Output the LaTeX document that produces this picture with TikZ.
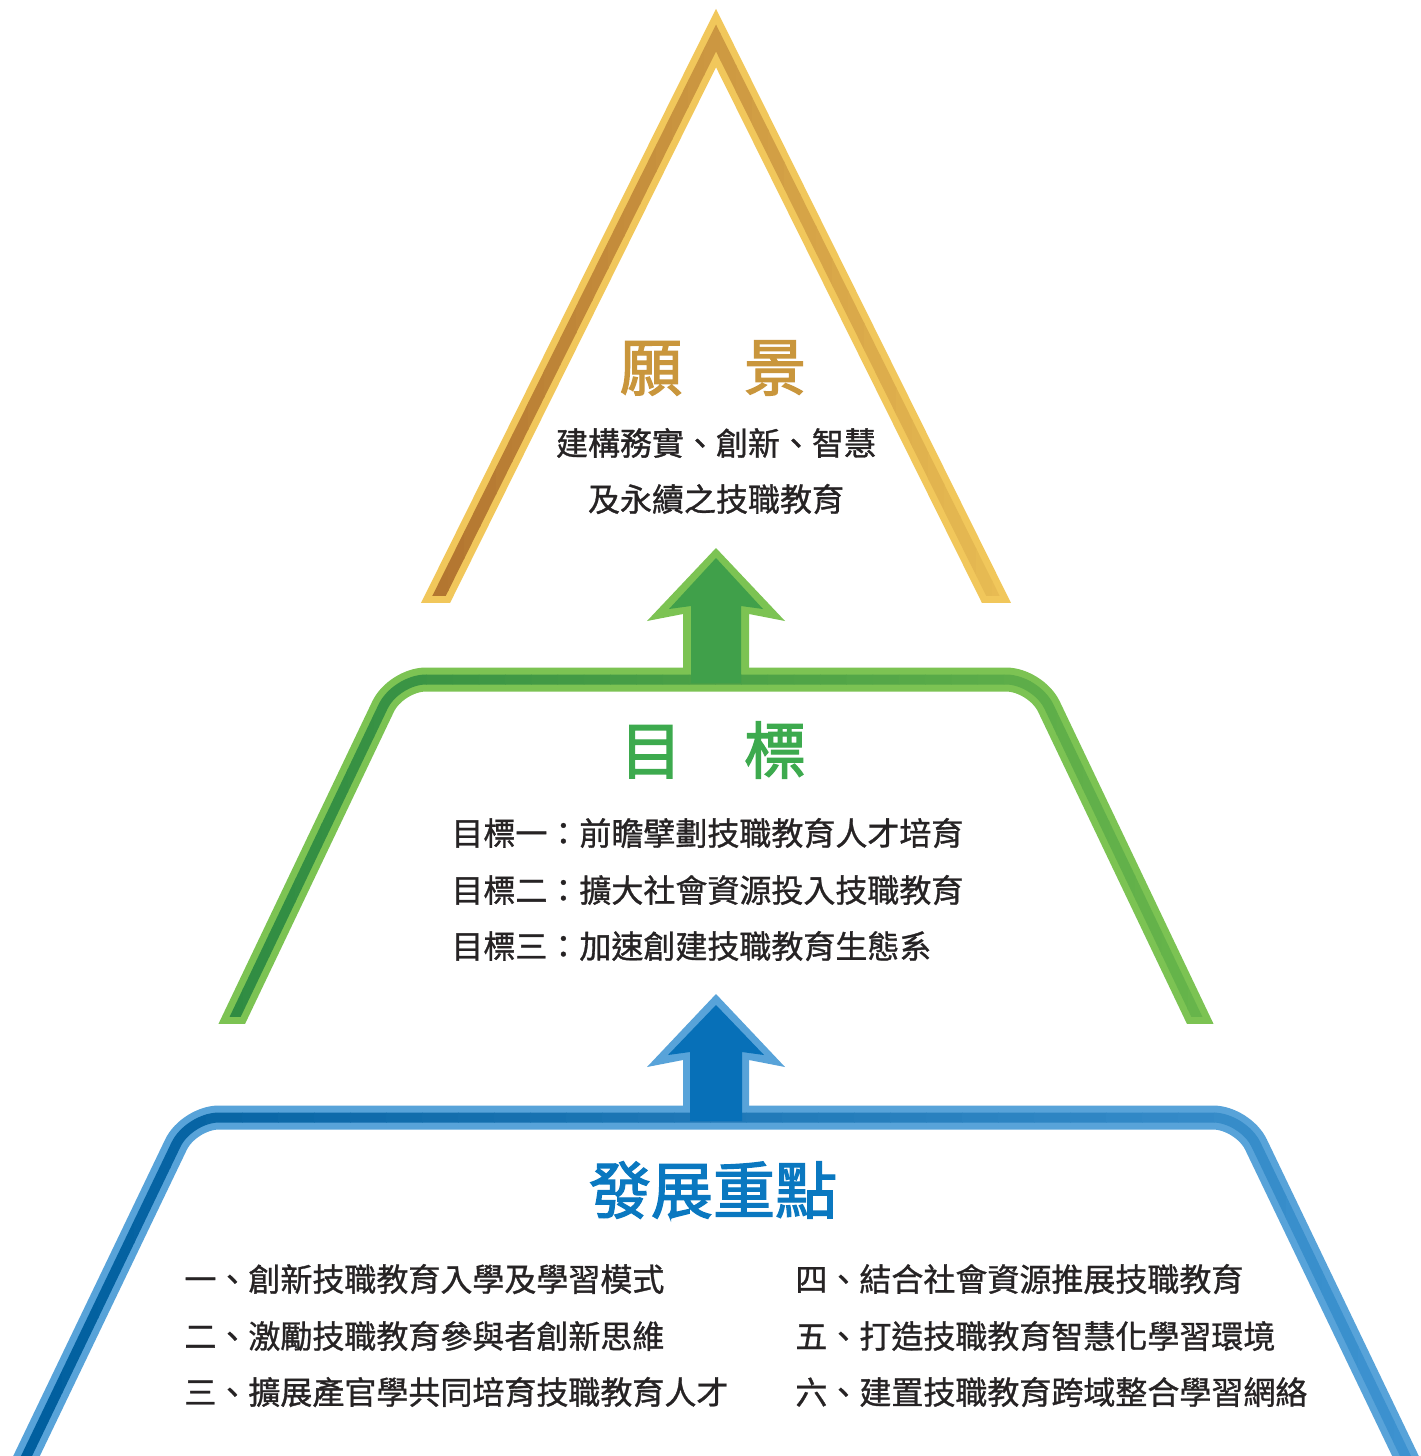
\documentclass[tikz,border=0pt]{standalone}
\usepackage{fontspec}
\newfontfamily\cjk{Noto Sans CJK TC}
\newfontfamily\cjkmed[FakeBold=1.0]{Noto Sans CJK TC}
\newfontfamily\cjkbold[FakeBold=2.2]{Noto Sans CJK TC}
\definecolor{goldOut}{HTML}{F1C75B}
\definecolor{goldInL}{HTML}{B0722E}
\definecolor{goldInR}{HTML}{EBC055}
\definecolor{goldT}{HTML}{C9963C}
\definecolor{greenOut}{HTML}{7CC353}
\definecolor{greenInL}{HTML}{2E8B42}
\definecolor{greenInR}{HTML}{69B64B}
\definecolor{greenArrow}{HTML}{40A04A}
\definecolor{greenT}{HTML}{3DAA4E}
\definecolor{blueOut}{HTML}{58A3D9}
\definecolor{blueInL}{HTML}{005E9E}
\definecolor{blueInR}{HTML}{3E93D0}
\definecolor{blueArrow}{HTML}{0770B8}
\definecolor{blueT}{HTML}{0A78C0}
\definecolor{txt}{HTML}{262324}
% gradient stroke: #1 path, #2 left colour, #3 right colour, #4 xmin, #5 xmax, #6 y max (clip), #7 width
\newcommand\gradstroke[7]{%
  \foreach \i in {0,...,39}{%
    \pgfmathsetmacro\xa{#4+(#5-#4)/40*\i}%
    \pgfmathsetmacro\xb{#4+(#5-#4)/40*(\i+1)+0.6}%
    \pgfmathtruncatemacro\p{100/39*\i}%
    \colorlet{strk}{#3!\p!#2}%
    \begin{scope}
      \clip (\xa,-20) rectangle (\xb,#6);
      \draw[line width=#7, strk, line join=miter] #1;
    \end{scope}
  }%
}
\tikzset{
  body/.style={font=\cjkmed\fontsize{16pt}{16pt}\selectfont, text=txt, inner sep=0pt},
  bodyl/.style={body, anchor=west},
  title/.style={font=\cjkbold\fontsize{31pt}{31pt}\selectfont, inner sep=0pt},
}
\begin{document}
\begin{tikzpicture}[x=0.5pt,y=-0.5pt]
\fill[white] (0,0) rectangle (1420,1456);
\useasboundingbox (0,0) rectangle (1420,1456);

% ---------- gold triangle ----------
\def\goldpath{(422.1,630) -- (716,38) -- (1009.9,630)}
\begin{scope}
  \clip (0,0) rectangle (1420,602);
  \draw[line width=13pt, goldOut, line join=miter] \goldpath;
\end{scope}
\gradstroke{\goldpath}{goldInL}{goldInR}{400}{1040}{595}{6pt}

% ---------- green trapezoid ----------
\def\greenpath{(221.7,1045) -- (396,679.5) -- (1036,679.5) -- (1210.3,1045)}
\begin{scope}
  \clip (0,0) rectangle (1420,1023);
  \draw[line width=12pt, greenOut, rounded corners=15pt] \greenpath;
\end{scope}
\gradstroke{[rounded corners=15pt]\greenpath}{greenInL}{greenInR}{190}{1240}{1016}{5pt}

% ---------- blue trapezoid ----------
\def\bluepath{(15,1480) -- (189,1117.5) -- (1243,1117.5) -- (1417,1480)}
\draw[line width=12pt, blueOut, rounded corners=15pt] \bluepath;
\gradstroke{[rounded corners=15pt]\bluepath}{blueInL}{blueInR}{-10}{1430}{1500}{5pt}

% ---------- arrows ----------
\fill[greenOut] (683,672) -- (683,614) -- (647,621) -- (716,548) -- (785,621) -- (749,614) -- (749,672) -- cycle;
\fill[greenArrow] (691,683) -- (691,606) -- (669,609) -- (716,558) -- (763,609) -- (741,606) -- (741,683) -- cycle;
\fill[blueOut] (683,1110) -- (683,1060) -- (647,1067) -- (716,994) -- (785,1067) -- (749,1060) -- (749,1110) -- cycle;
\fill[blueArrow] (690,1121) -- (690,1052) -- (668,1055) -- (716,1005) -- (764,1055) -- (742,1052) -- (742,1121) -- cycle;

% ---------- texts ----------
\node[title, text=goldT] (vision) at (713,368) {願　景};
\node[body] (v1) at (716,443) {建構務實、創新、智慧};
\node[body] (v2) at (716,499) {及永續之技職教育};

\node[title, text=greenT] (goal) at (713,750) {目　標};
\node[bodyl] (g1) at (451,833) {目標一：前瞻擘劃技職教育人才培育};
\node[bodyl] (g2) at (451,890) {目標二：擴大社會資源投入技職教育};
\node[bodyl] (g3) at (451,946) {目標三：加速創建技職教育生態系};

\node[title, text=blueT] (focus) at (713,1190) {發展重點};
\node[bodyl] (f1) at (184,1279) {一、創新技職教育入學及學習模式};
\node[bodyl] (f2) at (184,1336) {二、激勵技職教育參與者創新思維};
\node[bodyl] (f3) at (184,1392) {三、擴展產官學共同培育技職教育人才};
\node[bodyl] (f4) at (795,1279) {四、結合社會資源推展技職教育};
\node[bodyl] (f5) at (795,1336) {五、打造技職教育智慧化學習環境};
\node[bodyl] (f6) at (795,1392) {六、建置技職教育跨域整合學習網絡};
\end{tikzpicture}
\end{document}
